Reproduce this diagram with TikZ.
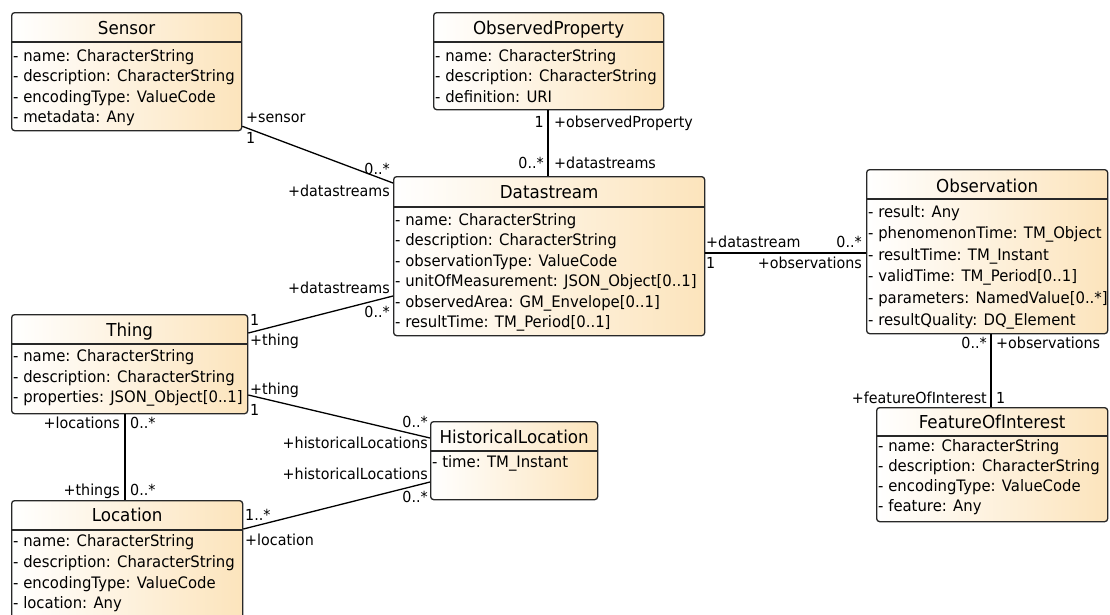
\documentclass[tikz,border=0pt]{standalone}
\usepackage{fontspec}
\setmainfont{DejaVu Sans}[FakeStretch=0.94]
\usetikzlibrary{calc}
\definecolor{peach}{RGB}{252,228,188}
\definecolor{bord}{RGB}{40,40,40}
\tikzset{
 cls/.style={draw=bord, line width=1.3pt, rounded corners=3pt, left color=white, right color=peach, inner sep=0pt, anchor=north west},
 sepline/.style={draw=bord, line width=1.1pt},
 ttl/.style={font=\fontsize{17.8}{20}\selectfont, inner sep=0pt, anchor=base},
 attr/.style={font=\fontsize{15.8}{18}\selectfont, inner sep=0pt, anchor=base west},
 lblw/.style={font=\fontsize{15.2}{18}\selectfont, inner sep=0pt, anchor=base west},
 lble/.style={font=\fontsize{15.2}{18}\selectfont, inner sep=0pt, anchor=base east},
 assoc/.style={draw=black, line width=1.3pt},
}
\begin{document}
\begin{tikzpicture}[x=1pt,y=-1pt]
\clip (0,0) rectangle (1110,614);
\fill[white] (0,0) rectangle (1110,614);

% ---------- Sensor
\node[cls, minimum width=230pt, minimum height=118pt] (sensor) at (11,12) {};
\draw[sepline] ($(sensor.north west)+(0,30)$) -- ($(sensor.north east)+(0,30)$);
\node[ttl] (sensorT) at ($(sensor.north)+(0,22.5)$) {Sensor};
\node[attr] (sensor1) at (13,61) {- name: CharacterString};
\node[attr] (sensor2) at (13,81.5) {- description: CharacterString};
\node[attr] (sensor3) at (13,102) {- encodingType: ValueCode};
\node[attr] (sensor4) at (13,122.5) {- metadata: Any};

% ---------- ObservedProperty
\node[cls, minimum width=230pt, minimum height=97pt] (op) at (433,12) {};
\draw[sepline] ($(op.north west)+(0,30)$) -- ($(op.north east)+(0,30)$);
\node[ttl] (opT) at ($(op.north)+(0,22.5)$) {ObservedProperty};
\node[attr] (op1) at (435,61) {- name: CharacterString};
\node[attr] (op2) at (435,81.5) {- description: CharacterString};
\node[attr] (op3) at (435,102) {- definition: URI};

% ---------- Datastream
\node[cls, minimum width=311pt, minimum height=159pt] (ds) at (393,176) {};
\draw[sepline] ($(ds.north west)+(0,31)$) -- ($(ds.north east)+(0,31)$);
\node[ttl] (dsT) at ($(ds.north)+(0,22)$) {Datastream};
\node[attr] (ds1) at (395,225) {- name: CharacterString};
\node[attr] (ds2) at (395,245.5) {- description: CharacterString};
\node[attr] (ds3) at (395,266) {- observationType: ValueCode};
\node[attr] (ds4) at (395,286.5) {- unitOfMeasurement: JSON\_Object[0..1]};
\node[attr] (ds5) at (395,307) {- observedArea: GM\_Envelope[0..1]};
\node[attr] (ds6) at (395,327.5) {- resultTime: TM\_Period[0..1]};

% ---------- Observation
\node[cls, minimum width=241pt, minimum height=164pt] (obs) at (866,169) {};
\draw[sepline] ($(obs.north west)+(0,30)$) -- ($(obs.north east)+(0,30)$);
\node[ttl] (obsT) at ($(obs.north)+(0,23)$) {Observation};
\node[attr] (obs1) at (868,217) {- result: Any};
\node[attr] (obs2) at (868,238.6) {- phenomenonTime: TM\_Object};
\node[attr] (obs3) at (868,260.2) {- resultTime: TM\_Instant};
\node[attr] (obs4) at (868,281.8) {- validTime: TM\_Period[0..1]};
\node[attr] (obs5) at (868,303.4) {- parameters: NamedValue[0..*]};
\node[attr] (obs6) at (868,325) {- resultQuality: DQ\_Element};

% ---------- Thing
\node[cls, minimum width=236pt, minimum height=99pt] (thing) at (11,314) {};
\draw[sepline] ($(thing.north west)+(0,30)$) -- ($(thing.north east)+(0,30)$);
\node[ttl] (thingT) at ($(thing.north)+(0,22)$) {Thing};
\node[attr] (thing1) at (13,361.5) {- name: CharacterString};
\node[attr] (thing2) at (13,382) {- description: CharacterString};
\node[attr] (thing3) at (13,402.5) {- properties: JSON\_Object[0..1]};

% ---------- Location
\node[cls, minimum width=231pt, minimum height=122pt] (loc) at (11,500) {};
\draw[sepline] ($(loc.north west)+(0,30)$) -- ($(loc.north east)+(0,30)$);
\node[ttl] (locT) at ($(loc.north)+(0,21.5)$) {Location};
\node[attr] (loc1) at (13,546.5) {- name: CharacterString};
\node[attr] (loc2) at (13,567) {- description: CharacterString};
\node[attr] (loc3) at (13,588) {- encodingType: ValueCode};
\node[attr] (loc4) at (13,608.5) {- location: Any};

% ---------- HistoricalLocation
\node[cls, minimum width=167pt, minimum height=78pt] (hl) at (430,421) {};
\draw[sepline] ($(hl.north west)+(0,30)$) -- ($(hl.north east)+(0,30)$);
\node[ttl] (hlT) at ($(hl.north)+(0,22)$) {HistoricalLocation};
\node[attr] (hl1) at (432,467) {- time: TM\_Instant};

% ---------- FeatureOfInterest
\node[cls, minimum width=231pt, minimum height=114pt] (foi) at (876,407) {};
\draw[sepline] ($(foi.north west)+(0,29)$) -- ($(foi.north east)+(0,29)$);
\node[ttl] (foiT) at ($(foi.north)+(0,21)$) {FeatureOfInterest};
\node[attr] (foi1) at (878,451.7) {- name: CharacterString};
\node[attr] (foi2) at (878,471.7) {- description: CharacterString};
\node[attr] (foi3) at (878,491.7) {- encodingType: ValueCode};
\node[attr] (foi4) at (878,511.7) {- feature: Any};

% ---------- connectors
\draw[assoc] ($(sensor.south east)+(0,-5)$) -- ($(ds.north west)+(0,7)$);
\coordinate (opx) at ($(op.south west)+(115,0)$);
\draw[assoc] (opx) -- (opx |- ds.north);
\coordinate (obsL) at ($(obs.north west)+(0,84)$);
\draw[assoc] (ds.east |- obsL) -- (obsL);
\draw[assoc] ($(thing.north east)+(0,19)$) -- ($(ds.north west)+(0,120)$);
\draw[assoc] ($(thing.north east)+(0,81)$) -- ($(hl.north west)+(0,17)$);
\draw[assoc] ($(loc.north east)+(0,29)$) -- ($(hl.north west)+(0,61)$);
\coordinate (thingC) at ($(thing.south west)+(114,0)$);
\draw[assoc] (thingC) -- (thingC |- loc.north);
\coordinate (obsC) at ($(obs.south west)+(125,0)$);
\draw[assoc] (obsC) -- (obsC |- foi.north);

% ---------- labels
% Sensor - Datastream
\node[lblw] (l1) at (246,122) {+sensor};
\node[lblw] (l2) at (246,143) {1};
\node[lble] (l3) at (390,174) {0..*};
\node[lble] (l4) at (390,196) {+datastreams};
% ObservedProperty - Datastream
\node[lble] (l5) at (544,127) {1};
\node[lblw] (l6) at (554,127) {+observedProperty};
\node[lble] (l7) at (544,168) {0..*};
\node[lblw] (l8) at (554,168) {+datastreams};
% Datastream - Observation
\node[lblw] (l9) at (706,247) {+datastream};
\node[lblw] (l10) at (706,268) {1};
\node[lble] (l11) at (862,247) {0..*};
\node[lble] (l12) at (862,268) {+observations};
% Thing - Datastream
\node[lble] (l13) at (390,293) {+datastreams};
\node[lble] (l14) at (390,317) {0..*};
\node[lblw] (l15) at (250,325) {1};
\node[lblw] (l16) at (250,345) {+thing};
% Thing - HistoricalLocation
\node[lblw] (l17) at (250,394) {+thing};
\node[lblw] (l18) at (250,415) {1};
\node[lble] (l19) at (428,427) {0..*};
\node[lble] (l20) at (428,448) {+historicalLocations};
% Location - HistoricalLocation
\node[lble] (l21) at (428,479) {+historicalLocations};
\node[lble] (l22) at (428,502) {0..*};
\node[lblw] (l23) at (245,520) {1..*};
\node[lblw] (l24) at (245,545) {+location};
% Thing - Location
\node[lble] (l25) at (120,428) {+locations};
\node[lblw] (l26) at (130,428) {0..*};
\node[lble] (l27) at (120,495) {+things};
\node[lblw] (l28) at (130,495) {0..*};
% Observation - FeatureOfInterest
\node[lble] (l29) at (987,348) {0..*};
\node[lblw] (l30) at (996,348) {+observations};
\node[lble] (l31) at (987,403) {+featureOfInterest};
\node[lblw] (l32) at (996,403) {1};
\end{tikzpicture}
\end{document}
